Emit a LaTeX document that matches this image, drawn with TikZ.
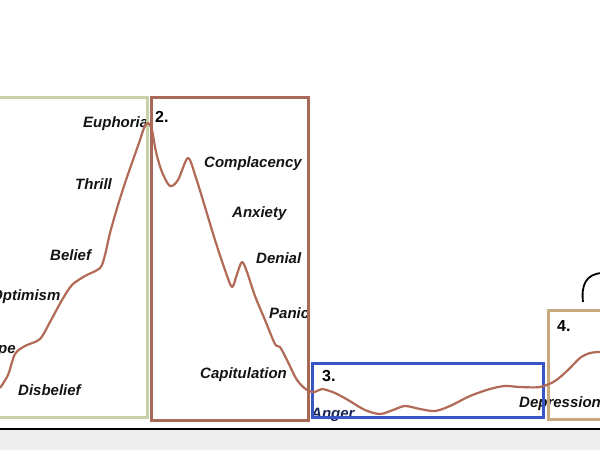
\documentclass[tikz,border=0pt]{standalone}
\usepackage{fontspec}
\setmainfont{Liberation Sans}
\definecolor{curvec}{HTML}{B06A55}
\definecolor{boxgreen}{HTML}{C8D0AA}
\definecolor{boxbrown}{HTML}{A86A58}
\definecolor{boxblue}{HTML}{3A55C4}
\definecolor{boxtan}{HTML}{C8A97E}
\definecolor{floorgray}{HTML}{EEEEEE}
\tikzset{
  lbl/.style={anchor=west, inner sep=0pt, font=\fontsize{15}{17}\selectfont\bfseries\itshape, text=black!92},
  num/.style={anchor=west, inner sep=0pt, font=\fontsize{16}{18}\selectfont\bfseries, text=black},
  boxline/.style={line width=3pt},
}
\begin{document}
\begin{tikzpicture}[x=1pt,y=-1pt]
\useasboundingbox (0,0) rectangle (600,450);
\clip (0,0) rectangle (600,450);
\fill[white] (0,0) rectangle (600,450);
\fill[floorgray] (0,429) rectangle (600,450);
\draw[black, line width=2.2pt] (0,429) -- (600,429);
% labels
\node[lbl] (euph) at (83,124) {Euphoria};
\node[lbl] (thrill) at (75,184) {Thrill};
\node[lbl] (belief) at (50,255) {Belief};
\node[lbl] (optim) at (-9,297) {Optimism};
\node[lbl] (hope) at (-22,350) {Hope};
\node[lbl] (disb) at (18,390) {Disbelief};
\node[num] (n2) at (155,117) {2.};
\node[lbl] (compl) at (204,164) {Complacency};
\node[lbl] (anx) at (232,214) {Anxiety};
\node[lbl] (denial) at (256,258) {Denial};
\node[lbl] (panic) at (269,313) {Panic};
\node[lbl] (capit) at (200,375) {Capitulation};
\node[num] (n3) at (322,376) {3.};
\node[lbl, text=boxblue!45!black] (anger) at (311,415) {Anger};
\node[lbl] (depr) at (519,404) {Depression};
\node[num] (n4) at (557,326) {4.};
% boxes
\draw[boxline, boxgreen] (-10,97) rectangle (147,417);
\draw[boxline, boxbrown] (151,97) rectangle (308,420);
\draw[boxline, boxblue] (312,363) rectangle (543,417);
\draw[boxline, boxtan] (548,310) rectangle (610,419);
% arc
\draw[black, line width=1.8pt] (583,302) .. controls (581,285) and (586,274) .. (602,273);
% curve
\draw[curvec, line width=2.2pt, line join=round] plot[smooth, tension=0.5] coordinates {
(0,388) (8,375) (15,354) (25,346) (40,339) (50,322) (62,300) (72,285) (85,276)
(100,268) (105,255) (110,233) (118,205) (126,180) (133,160) (140,140) (144,128)
(148,123) (152,130) (156,152) (162,172) (170,186) (178,180) (188,158) (196,178)
(205,207) (215,240) (225,270) (232,287) (237,274) (242,262) (247,272) (255,296)
(265,320) (275,344) (280,347) (287,360) (297,380) (307,390) (315,392) (322,389)
(335,393) (348,400) (365,410) (380,414) (393,410) (405,406) (420,409) (435,411)
(450,406) (470,396) (490,389) (505,386) (520,387) (540,387) (555,381) (568,370)
(580,358) (590,353) (600,352)};
\end{tikzpicture}
\end{document}
